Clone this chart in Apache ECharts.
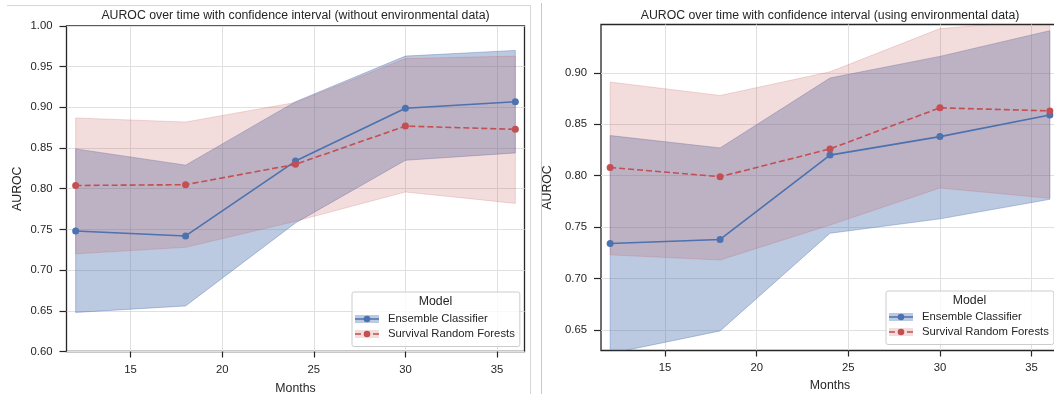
<!DOCTYPE html>
<html>
<head>
<meta charset="utf-8">
<script src="https://cdn.jsdelivr.net/npm/echarts@6/dist/echarts.min.js"></script>
<style>
  html, body { margin: 0; padding: 0; width: 1054px; height: 394px; overflow: hidden; background: #fff; }
  #frameLeft { position: absolute; left: 7px; top: 5px; width: 523px; height: 400px; border-top: 1px solid #d6d6d6; border-right: 1px solid #d6d6d6; }
  #frameRight { position: absolute; left: 541px; top: 3px; width: 10px; height: 400px; border-left: 1px solid #c8c8c8; }
  #chart { position: absolute; left: 0; top: 0; width: 1054px; height: 394px; }
</style>
</head>
<body>
<div id="frameLeft"></div>
<div id="frameRight"></div>
<div id="chart"></div>
<script>
// ---- data ----
const months = [12, 18, 24, 30, 36];
const xTicks = [15, 20, 25, 30, 35];
const yTicksLeft = [0.60, 0.65, 0.70, 0.75, 0.80, 0.85, 0.90, 0.95, 1.00];
const yTicksRight = [0.65, 0.70, 0.75, 0.80, 0.85, 0.90];

// without environmental data
const ecMeanNoEnv = [0.748, 0.742, 0.834, 0.899, 0.907];
const ecLowNoEnv  = [0.648, 0.656, 0.758, 0.835, 0.844];
const ecHighNoEnv = [0.849, 0.829, 0.907, 0.963, 0.970];
const srfMeanNoEnv = [0.804, 0.805, 0.830, 0.877, 0.873];
const srfLowNoEnv  = [0.720, 0.728, 0.760, 0.796, 0.782];
const srfHighNoEnv = [0.887, 0.882, 0.906, 0.960, 0.963];

// using environmental data
const ecMeanEnv = [0.734, 0.738, 0.820, 0.838, 0.859];
const ecLowEnv  = [0.627, 0.649, 0.744, 0.758, 0.777];
const ecHighEnv = [0.839, 0.827, 0.895, 0.916, 0.941];
const srfMeanEnv = [0.808, 0.799, 0.826, 0.866, 0.863];
const srfLowEnv  = [0.723, 0.718, 0.752, 0.788, 0.778];
const srfHighEnv = [0.891, 0.878, 0.901, 0.943, 0.952];

const titles = [
  'AUROC over time with confidence interval (without environmental data)',
  'AUROC over time with confidence interval (using environmental data)'
];
const seriesNames = ['Ensemble Classifier', 'Survival Random Forests'];

// ---- styles ----
const BLUE = '#4c72b0', RED = '#c44e52';
const BLUE_BAND = 'rgba(76,114,176,0.38)', RED_BAND = 'rgba(196,78,82,0.2)';
const TXT = '#262626';

function svgIcon(color, band, dashed) {
  const svg = "<svg xmlns='http://www.w3.org/2000/svg' width='28' height='15' viewBox='0 0 28 15'>" +
    "<rect x='0' y='3.5' width='24' height='8' fill='" + band + "'/>" +
    "<line x1='0' y1='7.5' x2='24' y2='7.5' stroke='" + color + "' stroke-width='1.6'" +
    (dashed ? " stroke-dasharray='6 3'" : "") + "/>" +
    "<circle cx='12' cy='7.5' r='3.3' fill='" + color + "'/></svg>";
  return 'image://data:image/svg+xml;charset=utf-8,' + encodeURIComponent(svg);
}

function bandSeries(idx, low, high, fill, stroke) {
  return {
    type: 'custom', name: 'band' + idx + fill, xAxisIndex: idx, yAxisIndex: idx,
    silent: true, clip: true, animation: false,
    data: months.map((m, i) => [m, low[i], high[i]]),
    encode: { x: 0, y: [1, 2] },
    renderItem: function (params, api) {
      if (params.dataIndex !== 0) return null;
      const pts = [];
      for (let i = 0; i < months.length; i++) pts.push(api.coord([months[i], high[i]]));
      for (let i = months.length - 1; i >= 0; i--) pts.push(api.coord([months[i], low[i]]));
      const cs = params.coordSys;
      return {
        type: 'polygon', shape: { points: pts },
        style: { fill: fill, stroke: stroke, lineWidth: 1 },
        clipPath: { type: 'rect', shape: { x: cs.x, y: cs.y, width: cs.width, height: cs.height } }
      };
    }
  };
}

function lineSeries(idx, name, mean, color, dashed) {
  return {
    type: 'line', name: name, xAxisIndex: idx, yAxisIndex: idx,
    data: months.map((m, i) => [m, mean[i]]),
    symbol: 'circle', symbolSize: 7, silent: true,
    itemStyle: { color: color, borderWidth: 0 },
    lineStyle: { color: color, width: 1.6, type: dashed ? [6, 3] : 'solid' },
    emphasis: { disabled: true }
  };
}

function xAxisCfg(idx, labelMargin, nameGap) {
  return {
    type: 'value', gridIndex: idx, min: 11.5, max: 36.5,
    axisLine: { show: false },
    axisTick: { show: true, length: 6, customValues: xTicks, lineStyle: { color: TXT, width: 1.2 } },
    axisLabel: { customValues: xTicks, color: TXT, fontSize: 11.3, margin: labelMargin, fontFamily: 'Liberation Sans' },
    splitLine: { show: true, lineStyle: { color: '#e0e0e0', width: 1 } },
    name: 'Months', nameLocation: 'middle', nameGap: nameGap,
    nameTextStyle: { color: TXT, fontSize: 12.3, fontFamily: 'Liberation Sans' }
  };
}

function yAxisCfg(idx, min, max, ticks, nameGap) {
  return {
    type: 'value', gridIndex: idx, min: min, max: max,
    axisLine: { show: false },
    axisTick: { show: true, length: 7, customValues: ticks, lineStyle: { color: TXT, width: 1.2 } },
    axisLabel: { customValues: ticks, color: TXT, fontSize: 11.3, margin: 14, fontFamily: 'Liberation Sans',
                 formatter: v => v.toFixed(2) },
    splitLine: { show: true, lineStyle: { color: '#e0e0e0', width: 1 } },
    name: 'AUROC', nameLocation: 'middle', nameGap: nameGap,
    nameTextStyle: { color: TXT, fontSize: 12.3, fontFamily: 'Liberation Sans' }
  };
}

function legendCfg(left, top, padTop) {
  return {
    left: left, top: top, orient: 'vertical', selectedMode: false,
    itemWidth: 28, itemHeight: 15, itemGap: 0,
    padding: [padTop, 5, 5, 3],
    backgroundColor: 'rgba(255,255,255,0.8)', borderColor: '#cccccc', borderWidth: 1, borderRadius: 2,
    textStyle: { color: TXT, fontSize: 11.3, lineHeight: 15, fontFamily: 'Liberation Sans' },
    data: [
      { name: seriesNames[0], icon: svgIcon(BLUE, BLUE_BAND, false) },
      { name: seriesNames[1], icon: svgIcon(RED, RED_BAND, true) }
    ]
  };
}

const chart = echarts.init(document.getElementById('chart'), null, { renderer: 'canvas' });
chart.setOption({
  animation: false,
  backgroundColor: 'transparent',
  textStyle: { fontFamily: 'Liberation Sans' },
  title: [
    { text: titles[0], left: 295.5, top: 10, textAlign: 'center', padding: 0,
      textStyle: { color: TXT, fontSize: 12.3, fontWeight: 'normal', fontFamily: 'Liberation Sans' } },
    { text: titles[1], left: 830, top: 10, textAlign: 'center', padding: 0,
      textStyle: { color: TXT, fontSize: 12.3, fontWeight: 'normal', fontFamily: 'Liberation Sans' } },
    { text: 'Model', left: 435.5, top: 296, textAlign: 'center', padding: 0, z: 10,
      textStyle: { color: TXT, fontSize: 12.3, fontWeight: 'normal', fontFamily: 'Liberation Sans' } },
    { text: 'Model', left: 969.5, top: 295, textAlign: 'center', padding: 0, z: 10,
      textStyle: { color: TXT, fontSize: 12.3, fontWeight: 'normal', fontFamily: 'Liberation Sans' } }
  ],
  grid: [
    { left: 66.5, top: 26, width: 458, height: 325.5, show: true, borderColor: TXT, borderWidth: 1.3,
      backgroundColor: 'transparent', containLabel: false, outerBoundsMode: 'none' },
    { left: 601, top: 24.5, width: 458, height: 326, show: true, borderColor: TXT, borderWidth: 1.3,
      backgroundColor: 'transparent', containLabel: false, outerBoundsMode: 'none' }
  ],
  xAxis: [xAxisCfg(0, 13, 31.5), xAxisCfg(1, 12, 29)],
  yAxis: [
    yAxisCfg(0, 0.60, 1.00, yTicksLeft, 43),
    yAxisCfg(1, 0.63, 0.947, yTicksRight, 47.5)
  ],
  legend: [legendCfg(352, 292, 19.5), legendCfg(886, 291, 18.5)],
  series: [
    bandSeries(0, ecLowNoEnv, ecHighNoEnv, BLUE_BAND, BLUE_BAND),
    bandSeries(0, srfLowNoEnv, srfHighNoEnv, RED_BAND, RED_BAND),
    lineSeries(0, seriesNames[0], ecMeanNoEnv, BLUE, false),
    lineSeries(0, seriesNames[1], srfMeanNoEnv, RED, true),
    bandSeries(1, ecLowEnv, ecHighEnv, BLUE_BAND, BLUE_BAND),
    bandSeries(1, srfLowEnv, srfHighEnv, RED_BAND, RED_BAND),
    lineSeries(1, seriesNames[0], ecMeanEnv, BLUE, false),
    lineSeries(1, seriesNames[1], srfMeanEnv, RED, true)
  ]
});
</script>
</body>
</html>
